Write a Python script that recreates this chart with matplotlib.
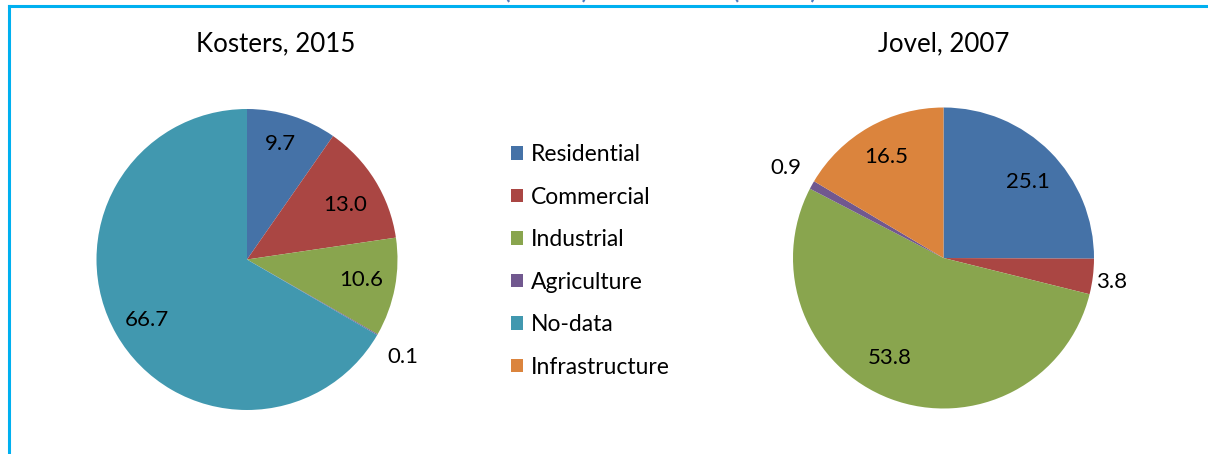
import matplotlib
matplotlib.use("Agg")
import matplotlib.pyplot as plt
from matplotlib.patches import Patch
from matplotlib.lines import Line2D

# ---- data -------------------------------------------------------------
categories = ["Residential", "Commercial", "Industrial", "Agriculture",
              "No-data", "Infrastructure"]
kosters_2015 = [9.7, 13.0, 10.6, 0.1, 66.7, 0.0]
jovel_2007 = [25.1, 3.8, 53.8, 0.9, 0.0, 16.5]
titles = ["Kosters, 2015", "Jovel, 2007"]
heading = "Kosters (2015) and Jovel (2007)"

# ---- style ------------------------------------------------------------
colors = ["#4572A7", "#AA4643", "#89A54E", "#71588F", "#4198AF", "#DB843D"]
FONT = ["Lato", "DejaVu Sans"]
plt.rcParams["font.family"] = FONT

W, H = 1208, 454
DPI = 100
fig = plt.figure(figsize=(W / DPI, H / DPI), dpi=DPI)
fig.patch.set_facecolor("white")

R_PX = 150.5      # pie radius in pixels
LIM = 1.2         # axes half-extent in radius units


def pie_axes(cx, cy):
    """Axes whose data unit equals one pie radius, centred at pixel (cx, cy) from top-left."""
    half = LIM * R_PX
    left = (cx - half) / W
    bottom = (H - cy - half) / H
    ax = fig.add_axes([left, bottom, 2 * half / W, 2 * half / H])
    ax.axis("off")
    return ax


# label anchors (radius units) for each slice; None = no label
kosters_label_xy = [(0.219, 0.767), (0.651, 0.362), (0.762, -0.136),
                    (1.037, -0.648), (-0.662, -0.402), None]
jovel_label_xy = [(0.564, 0.507), (1.120, -0.159), (-0.360, -0.667),
                  (-1.047, 0.598), None, (-0.382, 0.673)]

panels = [
    (247, 259.5, kosters_2015, kosters_label_xy, titles[0], 276),
    (943.5, 258, jovel_2007, jovel_label_xy, titles[1], 944),
]

LABEL_SIZE = 16
for cx, cy, values, label_xy, title, tx in panels:
    ax = pie_axes(cx, cy)
    ax.pie(values, colors=colors, startangle=90, counterclock=False,
           radius=1.0, wedgeprops=dict(linewidth=0))
    ax.set_xlim(-LIM, LIM)
    ax.set_ylim(-LIM, LIM)
    ax.set_aspect("equal")
    for v, xy in zip(values, label_xy):
        if xy is None:
            continue
        ax.text(xy[0], xy[1], f"{v:.1f}", ha="center", va="center",
                fontsize=LABEL_SIZE, color="black")
    fig.text(tx / W, 1 - 44 / H, title, ha="center", va="center",
             fontsize=18.6, color="black")

# ---- legend -----------------------------------------------------------
handles = [Patch(facecolor=c, edgecolor="none") for c in colors]
leg = fig.legend(handles, categories, loc="upper left",
                 bbox_to_anchor=(511 / W, 1 - 144 / H),
                 frameon=False, fontsize=16.5, borderpad=0, borderaxespad=0,
                 handlelength=0.52, handleheight=0.52, handletextpad=0.35,
                 labelspacing=0.94)

# ---- frame and clipped heading ---------------------------------------
frame_c = "#00B0F0"
fig.add_artist(Line2D([9 / W, 1.0], [1 - 5.5 / H, 1 - 5.5 / H],
                      transform=fig.transFigure, color=frame_c, linewidth=2.2))
fig.add_artist(Line2D([9 / W, 9 / W], [1 - 5.5 / H, 0.0],
                      transform=fig.transFigure, color=frame_c, linewidth=2.2))
fig.text(818 / W, 1 + 2.5 / H, heading, ha="right", va="baseline",
         fontsize=22, color="#4F7CC0")

fig.savefig("out.png", dpi=DPI, facecolor="white")
